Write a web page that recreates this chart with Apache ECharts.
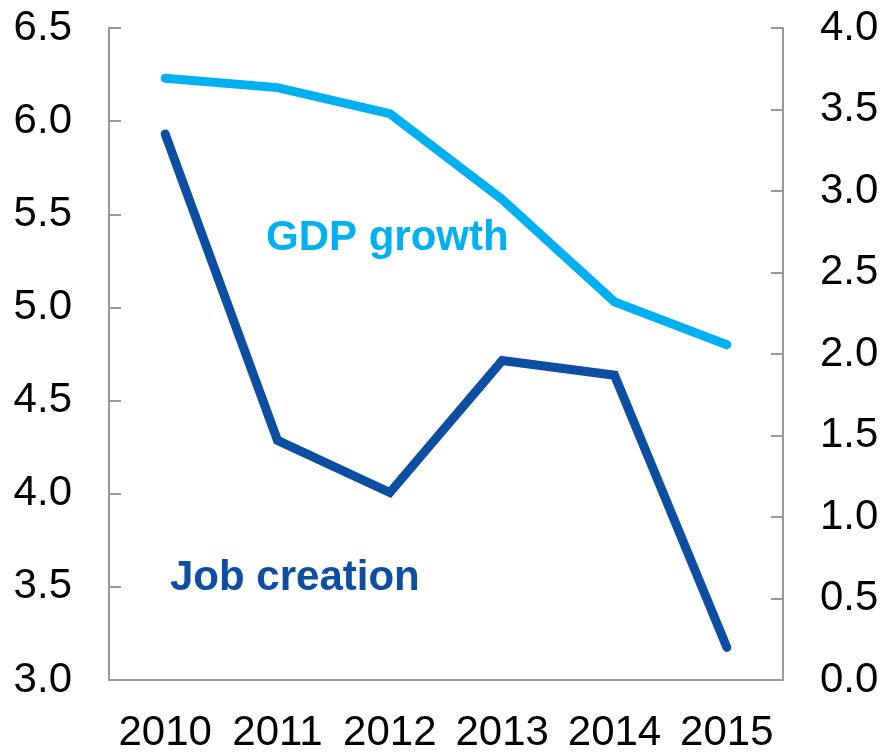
<!DOCTYPE html>
<html>
<head>
<meta charset="utf-8">
<script src="https://cdn.jsdelivr.net/npm/echarts@6/dist/echarts.min.js"></script>
<style>html,body{margin:0;padding:0;background:#fff}#c{width:883px;height:754px}</style>
</head>
<body>
<div id="c"></div>
<script>
var categories = ['2010', '2011', '2012', '2013', '2014', '2015'];
var gdpGrowth = [6.23, 6.18, 6.04, 5.58, 5.03, 4.80];      // left axis
var jobCreation = [3.35, 1.47, 1.15, 1.96, 1.87, 0.20];    // right axis
var gdpLabel = 'GDP growth';
var jobLabel = 'Job creation';

var FONT = '"Liberation Sans", Arial, sans-serif';
var axisColor = '#999999';
var chart = echarts.init(document.getElementById('c'));
chart.setOption({
  animation: false,
  backgroundColor: '#ffffff',
  grid: { left: 109, right: 100, top: 28, bottom: 69, containLabel: false },
  xAxis: {
    type: 'category',
    data: categories,
    boundaryGap: true,
    axisLine: { lineStyle: { color: axisColor, width: 2 } },
    axisTick: { inside: true, length: 12, interval: 0, lineStyle: { color: axisColor, width: 2 } },
    axisLabel: { color: '#000', fontSize: 42, fontFamily: FONT, margin: 32, interval: 0, hideOverlap: false },
    splitLine: { show: false }
  },
  yAxis: [
    {
      type: 'value', min: 3.0, max: 6.5, interval: 0.5, position: 'left',
      axisLine: { show: true, lineStyle: { color: axisColor, width: 2 } },
      axisTick: { show: true, inside: true, length: 12, lineStyle: { color: axisColor, width: 2 } },
      axisLabel: { color: '#000', fontSize: 42, fontFamily: FONT, margin: 37, formatter: function (v) { return v.toFixed(1); } },
      splitLine: { show: false }
    },
    {
      type: 'value', min: 0.0, max: 4.0, interval: 0.5, position: 'right',
      axisLine: { show: true, lineStyle: { color: axisColor, width: 2 } },
      axisTick: { show: true, inside: true, length: 12, lineStyle: { color: axisColor, width: 2 } },
      axisLabel: { color: '#000', fontSize: 42, fontFamily: FONT, margin: 37, formatter: function (v) { return v.toFixed(1); } },
      splitLine: { show: false }
    }
  ],
  series: [
    {
      name: gdpLabel, type: 'line', yAxisIndex: 0, data: gdpGrowth,
      symbol: 'none', lineStyle: { color: '#00B0F0', width: 9, cap: 'round', join: 'miter' }
    },
    {
      name: jobLabel, type: 'line', yAxisIndex: 1, data: jobCreation,
      symbol: 'none', lineStyle: { color: '#0B4EA2', width: 9, cap: 'round', join: 'miter' }
    }
  ],
  graphic: [
    { type: 'text', left: 266, top: 217, style: { text: gdpLabel, fill: '#00B0F0', font: 'bold 42px ' + FONT } },
    { type: 'text', left: 170, top: 557, style: { text: jobLabel, fill: '#0B4EA2', font: 'bold 42px ' + FONT } }
  ]
});
</script>
</body>
</html>
